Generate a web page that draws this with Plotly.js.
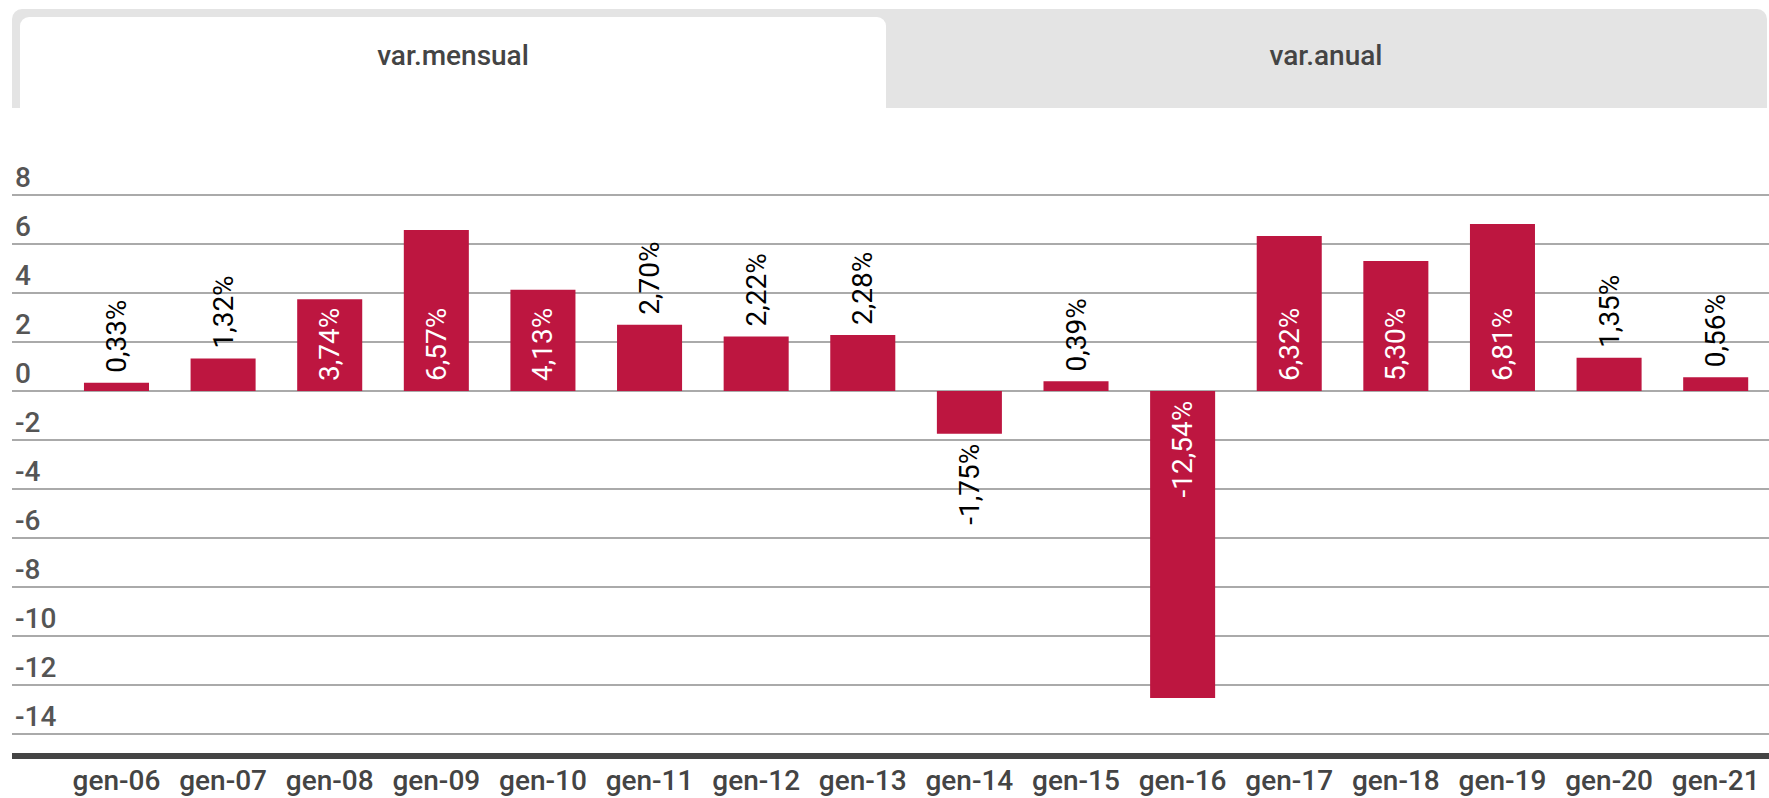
<!DOCTYPE html>
<html>
<head>
<meta charset="utf-8">
<script src="https://cdn.plot.ly/plotly-3.0.1.min.js"></script>
<style>
  html, body { margin: 0; padding: 0; background: #ffffff; }
  #wrap { position: relative; width: 1769px; height: 798px; overflow: hidden; font-family: Roboto, "Noto Sans", sans-serif; }
  #chart { position: absolute; left: 0; top: 0; width: 1769px; height: 798px; }
  .tabbar { position: absolute; left: 12px; top: 9px; width: 1755px; height: 99px; background: #e4e4e4; border-radius: 10px 10px 0 0; }
  .tab { position: absolute; top: 17px; height: 91px; display: flex; align-items: center; justify-content: center; font-size: 28px; font-weight: 500; color: #444; box-sizing: border-box; padding-bottom: 14px; }
  .tab.active { left: 20px; width: 866px; background: #ffffff; border-radius: 9px 9px 0 0; }
  .tab.other { left: 886px; width: 880px; }
</style>
</head>
<body>
<div id="wrap">
  <div id="chart"></div>
  <div class="tabbar"></div>
  <div class="tab active" id="tab1"></div>
  <div class="tab other" id="tab2"></div>
</div>
<script>
const tabLabels = ["var.mensual", "var.anual"];
const categories = ["gen-06","gen-07","gen-08","gen-09","gen-10","gen-11","gen-12","gen-13","gen-14","gen-15","gen-16","gen-17","gen-18","gen-19","gen-20","gen-21"];
const values = [0.33, 1.32, 3.74, 6.57, 4.13, 2.70, 2.22, 2.28, -1.75, 0.39, -12.54, 6.32, 5.30, 6.81, 1.35, 0.56];
const yTicks = [8, 6, 4, 2, 0, -2, -4, -6, -8, -10, -12, -14];

document.getElementById('tab1').textContent = tabLabels[0];
document.getElementById('tab2').textContent = tabLabels[1];

const NB = '\u00a0';
const labels = values.map(v => {
  const s = v.toFixed(2).replace('.', ',') + '%';
  return v >= 0 ? NB + s : s + NB;
});
const positions = values.map(v => Math.abs(v) > 3 ? 'inside' : 'outside');
const xIdx = categories.map((c, i) => i);

const trace = {
  type: 'bar',
  x: xIdx,
  y: values,
  text: labels,
  texttemplate: '%{text}',
  textposition: positions,
  insidetextanchor: 'start',
  textangle: -90,
  constraintext: 'none',
  cliponaxis: false,
  insidetextfont: { family: 'Roboto, sans-serif', size: 28, color: '#ffffff' },
  outsidetextfont: { family: 'Roboto, sans-serif', size: 28, color: '#000000' },
  marker: { color: '#bd1640' },
  hoverinfo: 'none'
};

const layout = {
  width: 1769,
  height: 798,
  margin: { l: 12, r: 0, t: 141, b: 45, pad: 0 },
  paper_bgcolor: '#ffffff',
  plot_bgcolor: '#ffffff',
  showlegend: false,
  bargap: 0.39,
  font: { family: 'Roboto, sans-serif', size: 28, color: '#444444' },
  xaxis: {
    type: 'linear',
    range: [-0.98, 15.5],
    tickmode: 'array',
    tickvals: xIdx,
    ticktext: categories,
    showgrid: false,
    zeroline: false,
    showline: true,
    linecolor: '#444444',
    linewidth: 6,
    ticks: '',
    ticklabelstandoff: -3,
    tickfont: { family: 'Roboto, sans-serif', size: 28, color: '#444444', weight: 500 },
    fixedrange: true
  },
  yaxis: {
    range: [-14.78, 10.2],
    tickmode: 'array',
    tickvals: yTicks,
    ticktext: yTicks.map(String),
    showgrid: true,
    gridcolor: '#aaaaaa',
    gridwidth: 2.5,
    zeroline: false,
    showline: false,
    ticks: '',
    ticklabelposition: 'inside',
    ticklabelstandoff: 0,
    ticklabelshift: -18,
    tickfont: { family: 'Roboto, sans-serif', size: 28, color: '#555555', weight: 500 },
    fixedrange: true
  }
};

Plotly.newPlot('chart', [trace], layout, { staticPlot: true, displayModeBar: false });
</script>
</body>
</html>
